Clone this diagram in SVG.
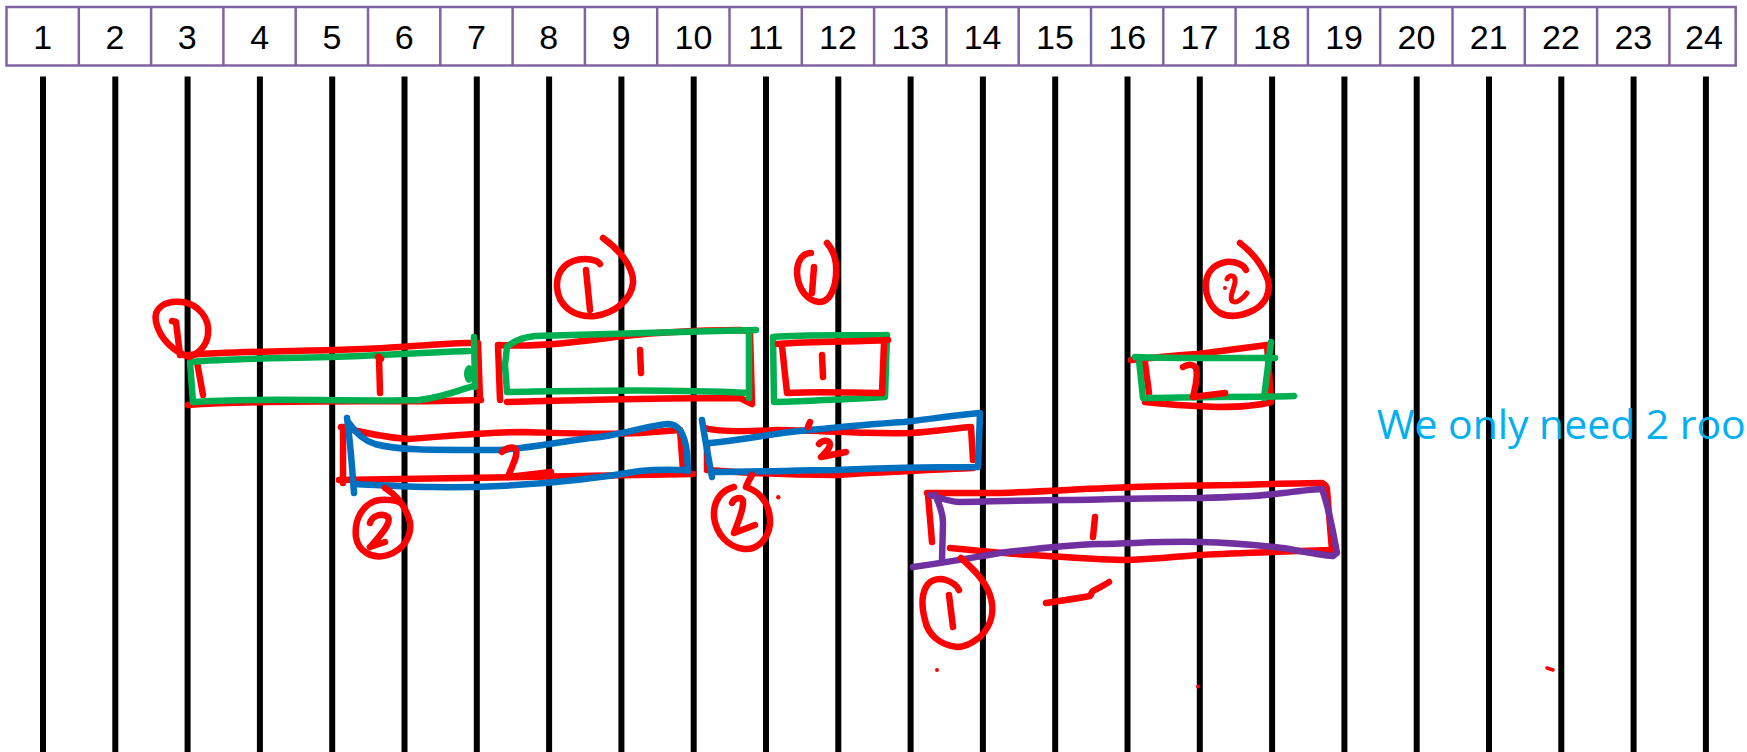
<svg xmlns="http://www.w3.org/2000/svg" width="1747" height="752" viewBox="0 0 1747 752">
<style>
.hd{fill:#fff;stroke:#8064A2;stroke-width:2.5}
.dv{stroke:#8064A2;stroke-width:2.5}
.num{font-family:"Liberation Sans",Arial,sans-serif;font-size:34px;fill:#000;text-anchor:middle}
.pen{fill:none;stroke-width:6.5;stroke-linecap:round;stroke-linejoin:round}
.r{stroke:#FF0000}.g{stroke:#00B050}.b{stroke:#0070C0}.p{stroke:#7030A0}
.dot{fill:#FF0000}
.note{font-family:"Open Sans","Liberation Sans",sans-serif;font-size:41px;fill:#00B0F0}
</style>
<rect width="1747" height="752" fill="#fff"/>
<g id="header">
<rect class="hd" x="6.5" y="7" width="1729.2" height="58.5"/>
<g class="dv">
<line x1="78.8" y1="7" x2="78.8" y2="65.5"/><line x1="151.1" y1="7" x2="151.1" y2="65.5"/><line x1="223.4" y1="7" x2="223.4" y2="65.5"/><line x1="295.7" y1="7" x2="295.7" y2="65.5"/><line x1="368" y1="7" x2="368" y2="65.5"/><line x1="440.3" y1="7" x2="440.3" y2="65.5"/><line x1="512.6" y1="7" x2="512.6" y2="65.5"/><line x1="584.9" y1="7" x2="584.9" y2="65.5"/><line x1="657.2" y1="7" x2="657.2" y2="65.5"/><line x1="729.5" y1="7" x2="729.5" y2="65.5"/><line x1="801.8" y1="7" x2="801.8" y2="65.5"/><line x1="874.1" y1="7" x2="874.1" y2="65.5"/><line x1="946.4" y1="7" x2="946.4" y2="65.5"/><line x1="1018.7" y1="7" x2="1018.7" y2="65.5"/><line x1="1091" y1="7" x2="1091" y2="65.5"/><line x1="1163.3" y1="7" x2="1163.3" y2="65.5"/><line x1="1235.6" y1="7" x2="1235.6" y2="65.5"/><line x1="1307.9" y1="7" x2="1307.9" y2="65.5"/><line x1="1380.2" y1="7" x2="1380.2" y2="65.5"/><line x1="1452.5" y1="7" x2="1452.5" y2="65.5"/><line x1="1524.8" y1="7" x2="1524.8" y2="65.5"/><line x1="1597.1" y1="7" x2="1597.1" y2="65.5"/><line x1="1669.4" y1="7" x2="1669.4" y2="65.5"/>
</g>
<g class="num">
<text x="42.7" y="48.8">1</text><text x="115" y="48.8">2</text><text x="187.3" y="48.8">3</text><text x="259.6" y="48.8">4</text><text x="331.9" y="48.8">5</text><text x="404.2" y="48.8">6</text><text x="476.5" y="48.8">7</text><text x="548.8" y="48.8">8</text><text x="621.1" y="48.8">9</text><text x="693.4" y="48.8">10</text><text x="765.7" y="48.8">11</text><text x="838" y="48.8">12</text><text x="910.3" y="48.8">13</text><text x="982.6" y="48.8">14</text><text x="1054.9" y="48.8">15</text><text x="1127.2" y="48.8">16</text><text x="1199.5" y="48.8">17</text><text x="1271.8" y="48.8">18</text><text x="1344.1" y="48.8">19</text><text x="1416.4" y="48.8">20</text><text x="1488.7" y="48.8">21</text><text x="1561" y="48.8">22</text><text x="1633.3" y="48.8">23</text><text x="1704" y="48.8">24</text>
</g>
</g>
<g id="grid" stroke="#000" stroke-width="6">
<line x1="43" y1="76.5" x2="43" y2="752"/><line x1="115.3" y1="76.5" x2="115.3" y2="752"/><line x1="187.6" y1="76.5" x2="187.6" y2="752"/><line x1="259.9" y1="76.5" x2="259.9" y2="752"/><line x1="332.2" y1="76.5" x2="332.2" y2="752"/><line x1="404.5" y1="76.5" x2="404.5" y2="752"/><line x1="476.8" y1="76.5" x2="476.8" y2="752"/><line x1="549.1" y1="76.5" x2="549.1" y2="752"/><line x1="621.4" y1="76.5" x2="621.4" y2="752"/><line x1="693.7" y1="76.5" x2="693.7" y2="752"/><line x1="766" y1="76.5" x2="766" y2="752"/><line x1="838.3" y1="76.5" x2="838.3" y2="752"/><line x1="910.6" y1="76.5" x2="910.6" y2="752"/><line x1="982.9" y1="76.5" x2="982.9" y2="752"/><line x1="1055.2" y1="76.5" x2="1055.2" y2="752"/><line x1="1127.5" y1="76.5" x2="1127.5" y2="752"/><line x1="1199.8" y1="76.5" x2="1199.8" y2="752"/><line x1="1272.1" y1="76.5" x2="1272.1" y2="752"/><line x1="1344.4" y1="76.5" x2="1344.4" y2="752"/><line x1="1416.7" y1="76.5" x2="1416.7" y2="752"/><line x1="1489" y1="76.5" x2="1489" y2="752"/><line x1="1561.3" y1="76.5" x2="1561.3" y2="752"/><line x1="1633.6" y1="76.5" x2="1633.6" y2="752"/><line x1="1705.9" y1="76.5" x2="1705.9" y2="752"/>
</g>
<g id="box-3-7">
<path class="pen r" d="M188,355 C250,350 330,352 400,347 S460,343 472,343 M478,343 L480,400 M188,405 C260,400 360,402 440,401 L481,400 M197,362 L203,395"/>
<path class="pen g" d="M190,362 C240,357 300,359 360,356 S440,352 469,351 M474,337 L475,387 M193,402 C260,397 340,402 419,400 C440,398 458,391 473,386 M190,362 L193,402"/>
<ellipse cx="469" cy="374" rx="5" ry="9" fill="#00B050"/>
<path class="pen r" d="M378,357 L381,359 M379,357 L380,393"/>
<path class="pen r" d="M189,357 C175,352 160,340 156,322 C153,308 165,300 182,302 C198,304 210,318 208,334 C207,346 198,354 189,357 M172,321 L176,322 L180,355"/>
</g>
<g id="box-8-11">
<path class="pen r" d="M498,345 C530,347 570,343 600,339 C640,333 700,330 740,330 L750,331 M498,345 L500,400 M507,402 C580,400 660,398 740,398 L752,404 M750,331 L752,404"/>
<path class="pen g" d="M507,347 C515,340 525,337 535,336 C600,334 680,332 756,330 M507,347 L505,365 L507,392 C580,391 660,389 749,393 M749,333 L749,398"/>
<path class="pen r" d="M640,350 L641,373"/>
<path class="pen r" d="M603,238 C620,250 634,268 633,283 C631,300 615,313 595,316 C573,318 558,305 557,287 C556,270 568,259 585,259 C594,259 599,262 600,264 M586,270 L590,310"/>
</g>
<g id="box-12">
<path class="pen g" d="M773,337 C810,334 850,336 887,335 L885,397 C850,399 810,401 774,402 Z"/>
<path class="pen r" d="M778,344 C815,341 855,342 888,340 M782,346 L787,393 C820,391 855,393 882,393 L884,343"/>
<path class="pen r" d="M822,355 L823,377"/>
<path class="pen r" d="M827,243 C835,252 838,266 835,283 C832,296 826,302 819,302 C808,301 798,290 797,273 C797,260 803,253 811,253 M814,267 L812,293"/>
</g>
<g id="box-5-10">
<path class="pen r" d="M341,427 C360,432 380,437 408,439 C450,436 490,432 523,432 C560,433 600,435 640,433 L680,430 M343,427 L343,483 M339,480 C400,479 460,478 523,477 C600,476 650,475 693,474 M680,430 L683,470"/>
<path class="pen b" d="M347,418 C350,440 352,465 354,493 M349,423 C355,432 362,440 375,444 C400,451 440,450 500,450 C540,447 560,441 600,437 C630,433 650,425 668,424 C680,424 685,435 687,453 L688,471 M354,484 C400,486 440,489 500,486 C560,483 600,478 640,471 C660,469 675,470 688,470"/>
<path class="pen r" d="M502,452 C507,447 514,446 516,450 C518,456 512,466 508,477 L551,472"/>
<path class="pen r" d="M385,488 C395,494 406,506 410,522 C412,537 403,550 388,555 C372,560 358,551 356,537 C354,520 362,506 375,501 C386,498 398,501 401,503 M370,523 C372,516 382,512 388,517 C392,524 378,538 370,547 L385,542"/>
</g>
<g id="box-10-14">
<path class="pen r" d="M705,428 C715,431 740,432 777,430 C830,431 880,434 911,433 C940,431 955,428 971,427 L973,460 M707,445 L707,468 M707,470 C760,474 800,475 835,475 C880,472 930,470 973,468"/>
<path class="pen b" d="M702,420 C705,440 709,460 712,477 M710,443 C740,440 760,436 790,432 C830,428 870,424 904,422 C930,419 950,416 980,413 L978,467 M712,472 C760,472 800,470 835,470 C880,468 930,467 977,467"/>
<path class="pen r" d="M819,444 C822,440 830,439 830,445 C829,450 824,454 821,457 L846,452 M810,422 L808,427"/>
<path class="pen r" d="M752,475 C749,480 747,484 746,487 C762,492 771,507 770,524 C768,540 757,550 744,549 C728,547 716,534 714,517 C713,500 722,490 734,487 M732,503 C734,498 741,496 743,501 C744,510 737,524 734,533 L755,525"/>
<circle class="dot" cx="778.3" cy="497.3" r="2.2"/>
</g>
<g id="box-13-19">
<path class="pen r" d="M927,493 C960,493 990,493 1000,493 C1050,491 1100,488 1133,487 C1180,486 1210,485 1233,485 C1270,484 1300,483 1322,483 C1326,485 1327,488 1327,490 L1332,550 M928,495 L932,542 M950,548 C990,552 1010,554 1033,555 C1080,558 1100,560 1127,560 C1160,559 1180,556 1200,555 C1240,553 1270,552 1332,550"/>
<path class="pen p" d="M930,495 C945,500 955,502 960,502 C1000,501 1040,500 1067,500 C1120,499 1160,498 1200,498 C1240,497 1270,495 1283,493 C1300,491 1315,489 1322,489 C1328,505 1332,525 1337,553 L1333,556 M913,567 C950,562 970,558 1000,553 C1040,548 1070,545 1100,544 C1140,543 1170,541 1200,542 C1240,543 1265,546 1283,548 C1300,551 1320,555 1333,556 M935,495 C940,505 943,515 943,523 L942,560"/>
<path class="pen r" d="M1095,517 L1093,537"/>
<path class="pen r" d="M961,558 C972,568 985,580 990,595 C995,610 992,625 980,637 C970,645 962,647 957,647 C940,645 928,635 925,620 C921,605 922,592 928,584 C933,579 940,578 946,580 C952,582 957,586 959,590 M949,595 L953,627"/>
<path class="pen r" d="M1046,603 C1065,600 1080,598 1090,596 C1092,594 1091,592 1093,591 C1100,587 1105,585 1109,582"/>
</g>
<g id="box-16-18">
<path class="pen r" d="M1131,360 C1160,357 1180,355 1198,354 C1230,350 1250,347 1267,345 L1271,400 M1145,402 C1170,405 1190,406 1218,407 C1240,407 1260,405 1271,402 M1145,363 L1149,393"/>
<path class="pen g" d="M1135,357 C1160,358 1180,358 1198,358 C1230,358 1255,358 1275,358 M1271,342 L1264,398 M1139,360 L1143,398 C1170,398 1190,397 1218,397 C1250,397 1270,397 1294,396"/>
<path class="pen r" d="M1183,367 C1188,364 1194,364 1196,368 C1198,374 1196,385 1193,397 L1225,393"/>
<path class="pen r" d="M1240,243 C1252,252 1262,264 1268,280 C1271,293 1265,304 1254,310 C1242,316 1230,318 1220,313 C1210,307 1205,295 1206,283 C1207,271 1215,264 1226,262 C1236,261 1244,265 1246,270"/>
<path class="pen r" style="stroke-width:5" d="M1227,279 C1229,274 1236,275 1235,282 C1234,290 1229,296 1232,301 C1236,304 1243,299 1247,293"/>
<circle class="dot" cx="1225" cy="288" r="2"/>
</g>
<g id="stray-marks">
<circle class="dot" cx="937" cy="670" r="2"/>
<circle class="dot" cx="1198" cy="686.5" r="2"/>
<path class="pen r" style="stroke-width:3.5" d="M1547,668 L1553,670"/>
</g>
<g id="note">
<text class="note" x="1376.7" y="439.3" textLength="369" lengthAdjust="spacing">We only need 2 roo</text>
</g>
</svg>
